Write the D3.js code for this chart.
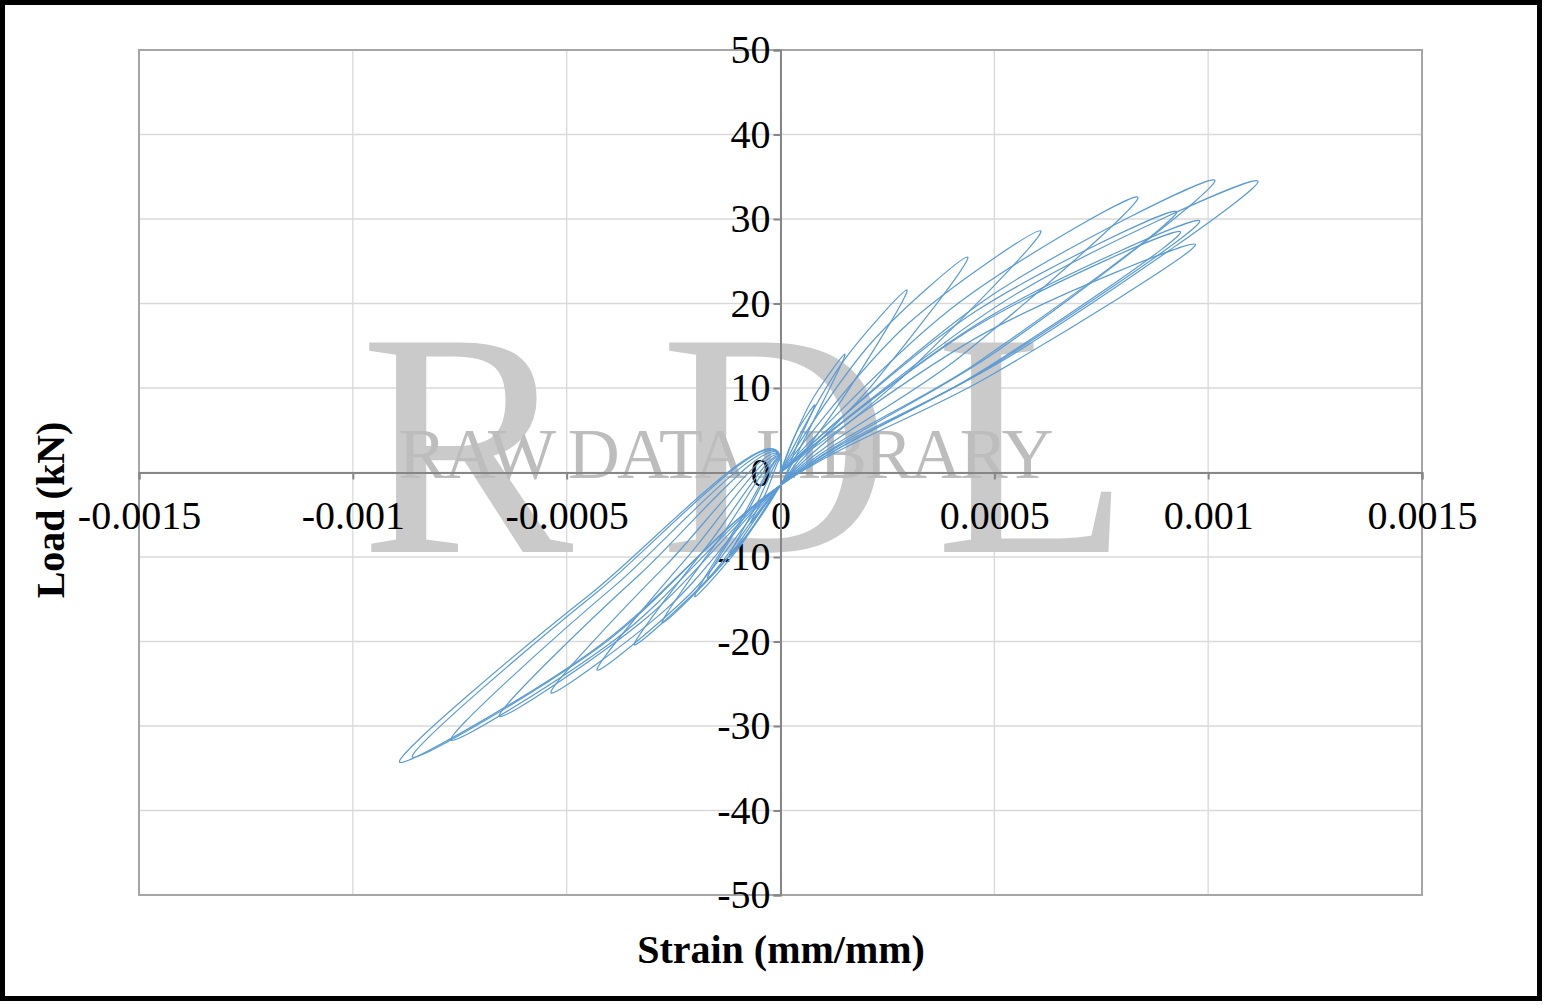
<!DOCTYPE html><html><head><meta charset="utf-8">
<script src="https://cdn.jsdelivr.net/npm/d3@7"></script>
<style>body{margin:0;background:#fff}</style></head><body>
<svg id="c" width="1547" height="1005"></svg>
<script>
const xTicks=[-0.0015,-0.001,-0.0005,0,0.0005,0.001,0.0015];
const xTickLabels=["-0.0015","-0.001","-0.0005","0","0.0005","0.001","0.0015"];
const yTicks=[-50,-40,-30,-20,-10,0,10,20,30,40,50];
const cycle1=[[0,0],[0.00004,5],[0.00008,8],[0.00004,3.4],[0,-1.5],[-0.000035,-3.7],[-0.00007,-6],[-0.000035,-2.5],[0,1.5]];
const cycle2=[[0,0],[0.000075,8.7],[0.00015,14],[0.000075,5.9],[0,-1.5],[-0.00006,-6.2],[-0.00012,-10],[-0.00006,-4.2],[0,1.5]];
const cycle3=[[0,0],[0.00015,13.4],[0.000295,21.6],[0.00015,9.1],[0,-1.5],[-0.000085,-7.8],[-0.00017,-12.5],[-0.000085,-5.3],[0,1.5]];
const cycle4=[[0,0],[0.00022,15.8],[0.000437,25.5],[0.00022,10.7],[0,-1.5],[-0.0001,-9.1],[-0.0002,-14.7],[-0.0001,-6.2],[0,1.5]];
const cycle5=[[0,0],[0.0003,17.7],[0.000608,28.6],[0.0003,12],[0,-1.5],[-0.000138,-11],[-0.000276,-17.8],[-0.000138,-7.5],[0,1.5]];
const cycle6=[[0,0],[0.00042,20.2],[0.000835,32.6],[0.00042,13.7],[0,-1.5],[-0.00017,-12.6],[-0.000341,-20.4],[-0.00017,-8.6],[0,1.5]];
const cycle7=[[0,0],[0.00046,19.2],[0.000926,30.9],[0.00046,13],[0,-1.5],[-0.000214,-14.5],[-0.000428,-23.4],[-0.000214,-9.8],[0,1.5]];
const cycle8=[[0,0],[0.00049,18.5],[0.00098,29.8],[0.00049,12.5],[0,-1.5],[-0.000268,-16.2],[-0.000536,-26.1],[-0.000268,-11],[0,1.5]];
const cycle9=[[0,0],[0.00051,21.5],[0.001015,34.6],[0.00051,14.5],[0,-1.5],[-0.00033,-17.9],[-0.000657,-28.9],[-0.00033,-12.1],[0,1.5]];
const cycle10=[[0,0],[0.00047,17.7],[0.000935,28.5],[0.00047,12],[0,-1.5],[-0.000385,-19.7],[-0.00077,-31.7],[-0.000385,-13.3],[0,1.5]];
const cycle11=[[0,0],[0.00056,21.4],[0.001116,34.5],[0.00056,14.5],[0,-1.5],[-0.000445,-21.3],[-0.00089,-34.3],[-0.000445,-14.4],[0,1.5]];
const cycle12=[[0,0],[0.000485,16.7],[0.00097,27],[0.000485,11.3],[0,-1.5],[-0.00043,-20.9],[-0.00086,-33.7],[-0.00043,-14.2],[0,1.5]];
const cycles=[cycle1,cycle2,cycle3,cycle4,cycle5,cycle6,cycle7,cycle8,cycle9,cycle10,cycle11,cycle12];

const svg=d3.select("#c");
const L=139,R=1422,T=50,B=895;
const x=d3.scaleLinear().domain([-0.0015,0.0015]).range([L,R]);
const y=d3.scaleLinear().domain([-50,50]).range([B,T]);
svg.append("rect").attr("x",2.5).attr("y",2.5).attr("width",1537).attr("height",996).attr("fill","none").attr("stroke","#000").attr("stroke-width",5);
svg.selectAll(".gx").data(xTicks).join("line").attr("x1",d=>x(d)).attr("x2",d=>x(d)).attr("y1",T).attr("y2",B).attr("stroke","#d9d9d9").attr("stroke-width",1.3);
svg.selectAll(".gy").data(yTicks).join("line").attr("y1",d=>y(d)).attr("y2",d=>y(d)).attr("x1",L).attr("x2",R).attr("stroke","#d9d9d9").attr("stroke-width",1.3);
svg.append("rect").attr("x",L).attr("y",T).attr("width",R-L).attr("height",B-T).attr("fill","none").attr("stroke","#a6a6a6").attr("stroke-width",2);
const wm=svg.append("g").attr("fill","#cacaca").attr("font-family","Liberation Serif");
wm.append("text").attr("x",360).attr("y",552).attr("font-size",320).text("R");
wm.append("text").attr("x",660).attr("y",552).attr("font-size",320).text("D");
wm.append("text").attr("x",935).attr("y",552).attr("font-size",320).text("L");
wm.append("text").attr("x",726).attr("y",478).attr("text-anchor","middle").attr("font-size",72).attr("fill","#bdbdbd").attr("textLength",655).text("RAW DATA LIBRARY");
const gx=svg.append("g").attr("transform",`translate(0,${y(0)})`).call(d3.axisBottom(x).tickValues(xTicks).tickSize(7).tickFormat((d,i)=>xTickLabels[i]));
const gy=svg.append("g").attr("transform",`translate(${x(0)},0)`).call(d3.axisLeft(y).tickValues(yTicks).tickSize(7).tickFormat(d=>String(d)));
[gx,gy].forEach(g=>{g.select(".domain").attr("stroke","#868686").attr("stroke-width",2);g.selectAll(".tick line").attr("stroke","#868686").attr("stroke-width",2);g.selectAll("text").attr("font-family","Liberation Serif").attr("font-size",40).attr("fill","#000");});
gx.selectAll("text").attr("dy","1.15em");
gy.selectAll("text").attr("x",-10);
const line=d3.line().x(d=>x(d[0])).y(d=>y(d[1])).curve(d3.curveCatmullRom.alpha(0.9));
svg.selectAll(".cyc").data(cycles).join("path").attr("d",d=>line(d.concat([d[0]]))).attr("fill","none").attr("stroke","#5b9bd5").attr("stroke-width",1.2);
svg.append("text").attr("x",781).attr("y",963).attr("text-anchor","middle").attr("font-family","Liberation Serif").attr("font-weight","bold").attr("font-size",40).text("Strain (mm/mm)");
svg.append("text").attr("transform","translate(64,510) rotate(-90)").attr("text-anchor","middle").attr("font-family","Liberation Serif").attr("font-weight","bold").attr("font-size",40).text("Load (kN)");
</script></body></html>
